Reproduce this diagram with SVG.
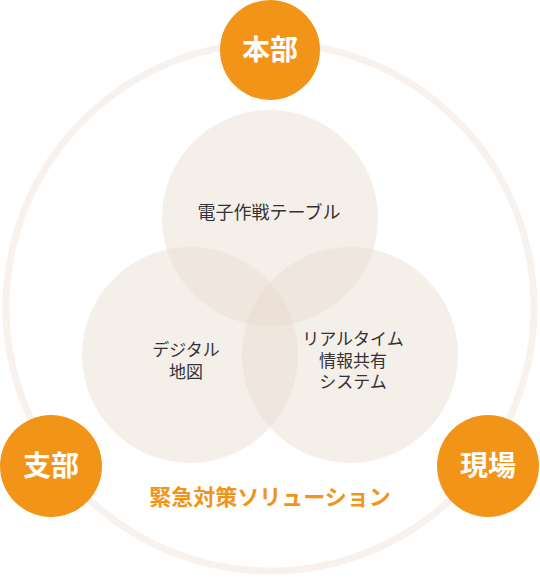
<svg xmlns="http://www.w3.org/2000/svg" width="540" height="582" viewBox="0 0 540 582">
<style>
.ring{fill:none;stroke:#f7f2ee;stroke-width:7}
.venn{fill:#e8dace;fill-opacity:0.42}
.hub{fill:#f29418}
.hubt{font-family:"Noto Sans CJK JP",sans-serif;font-weight:bold;font-size:28px;fill:#fff;text-anchor:middle}
.lbl{font-family:"Noto Sans CJK JP",sans-serif;font-size:17px;fill:#333;text-anchor:middle}
.cap{font-family:"Noto Sans CJK JP",sans-serif;font-weight:bold;font-size:22px;fill:#f29418;text-anchor:middle}
</style>
<rect width="540" height="582" fill="#fff"/>
<g id="connectors">
<circle class="ring" cx="270" cy="307" r="264"/>
</g>
<g id="venn-top"><circle class="venn" cx="270" cy="218" r="108"/><text class="lbl" x="269" y="219" style="font-size:18px">電子作戦テーブル</text></g>
<g id="venn-left"><circle class="venn" cx="190" cy="355" r="108"/><text class="lbl" x="186" y="356">デジタル</text><text class="lbl" x="186" y="378">地図</text></g>
<g id="venn-right"><circle class="venn" cx="350" cy="355" r="108"/><text class="lbl" x="353" y="345">リアルタイム</text><text class="lbl" x="353" y="367">情報共有</text><text class="lbl" x="353" y="388">システム</text></g>
<g id="honbu"><circle class="hub" cx="270" cy="50" r="50"/><text class="hubt" x="270" y="60">本部</text></g>
<g id="shibu"><circle class="hub" cx="51" cy="466" r="51"/><text class="hubt" x="51" y="476">支部</text></g>
<g id="genba"><circle class="hub" cx="488" cy="466" r="51"/><text class="hubt" x="488" y="476">現場</text></g>
<g id="caption"><text class="cap" x="270" y="505">緊急対策ソリューション</text></g>
</svg>
